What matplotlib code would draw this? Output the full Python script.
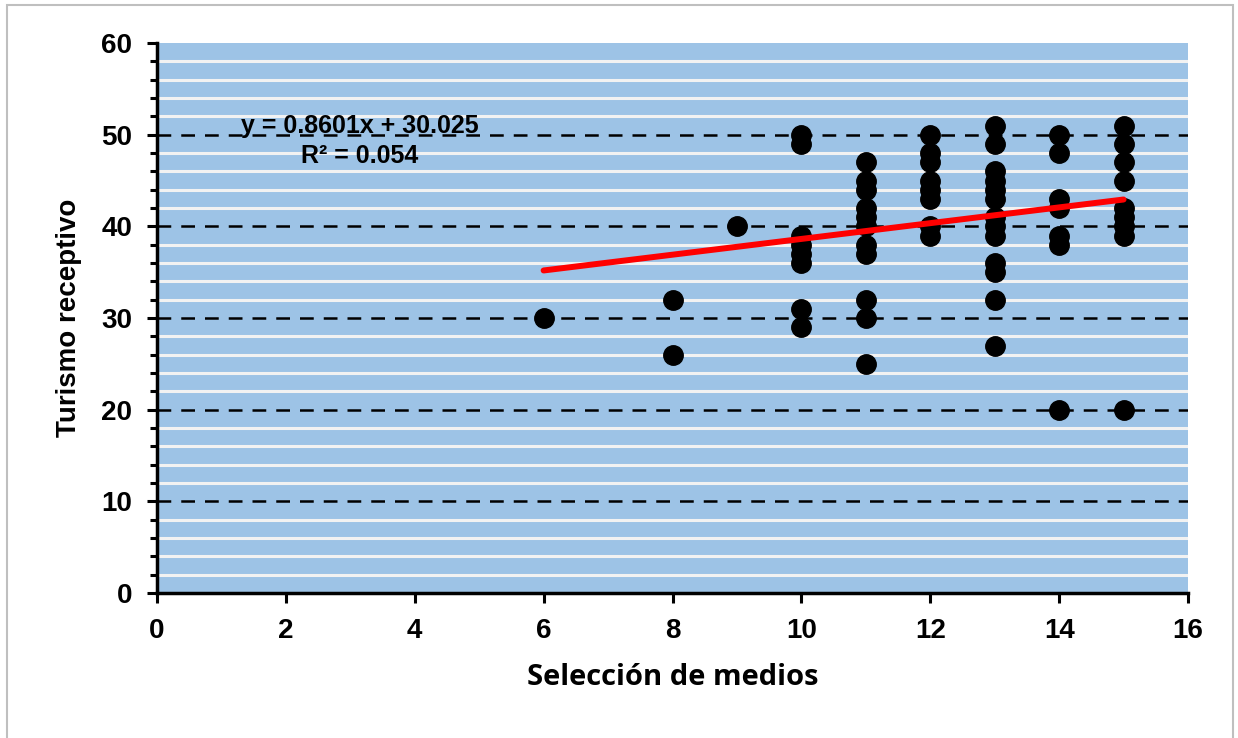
import numpy as np
import matplotlib
matplotlib.use('Agg')
from matplotlib import pyplot as plt
from matplotlib.patches import Rectangle
from matplotlib.ticker import MultipleLocator

# data (overlapping points only appear once)
x6 = [6]
y6 = [30]
x8 = [8, 8]
y8 = [32, 26]
x9 = [9]
y9 = [40]
x10 = [10] * 8
y10 = [50, 49, 39, 38, 37, 36, 31, 29]
x11 = [11] * 11
y11 = [47, 45, 44, 42, 41, 40, 38, 37, 32, 30, 25]
x12 = [12] * 8
y12 = [50, 48, 47, 45, 44, 43, 40, 39]
x13 = [13] * 13
y13 = [51, 49, 46, 45, 44, 43, 41, 40, 39, 36, 35, 32, 27]
x14 = [14] * 7
y14 = [50, 48, 43, 42, 39, 38, 20]
x15 = [15] * 9
y15 = [51, 49, 47, 45, 42, 41, 40, 39, 20]

slope = 0.8601
intercept = 30.025
r2 = 0.054

xs = x6 + x8 + x9 + x10 + x11 + x12 + x13 + x14 + x15
ys = y6 + y8 + y9 + y10 + y11 + y12 + y13 + y14 + y15

fig = plt.figure(figsize=(12.38, 7.38), dpi=100)
fig.patches.append(Rectangle((0.006, -0.01), 0.99, 1.003, transform=fig.transFigure,
                             fill=False, edgecolor='#bfbfbf', linewidth=1.5))
ax = fig.add_axes([157/1238, 1-593/738, (1188-157)/1238, (593-43)/738])
ax.set_facecolor('#9dc3e6')

ax.set_xlim(0, 16)
ax.set_ylim(0, 60)
ax.xaxis.set_major_locator(MultipleLocator(2))
ax.yaxis.set_major_locator(MultipleLocator(10))
ax.yaxis.set_minor_locator(MultipleLocator(2))

ax.grid(which='minor', axis='y', color='#f2f2f2', linewidth=2.2, zorder=0)
for yv in range(10, 60, 10):
    ax.axhline(yv, color='black', linestyle=(0, (5.5, 4)), linewidth=1.8, zorder=1)
ax.set_axisbelow(True)

ax.plot(xs, ys, 'o', color='black', markersize=14, zorder=3)
xl = np.array([min(xs), max(xs)])
ax.plot(xl, slope * xl + intercept, color='red', linewidth=4.3, solid_capstyle='round', zorder=4)

ax.text(3.14, 49.3, 'y = 0.8601x + 30.025\nR² = %.3f' % r2, ha='center', va='center',
        fontsize=18, fontweight='bold', family='Liberation Sans', linespacing=1.3, zorder=5)

for s in ['top', 'right']:
    ax.spines[s].set_visible(False)
for s in ['left', 'bottom']:
    ax.spines[s].set_linewidth(2.5)

ax.tick_params(axis='both', which='major', direction='out', width=2.2, length=7, pad=11)
ax.tick_params(axis='y', which='minor', direction='out', width=2.2, length=5)
for lab in ax.get_xticklabels() + ax.get_yticklabels():
    lab.set_fontsize(20)
    lab.set_fontweight('bold')
    lab.set_family('Liberation Sans')

ax.set_xlabel('Selección de medios', fontsize=21, fontweight='bold', family='Open Sans', labelpad=14)
ax.set_ylabel('Turismo receptivo', fontsize=20, fontweight='bold', family='Liberation Sans', labelpad=14)

fig.savefig('out.png', dpi=100)
